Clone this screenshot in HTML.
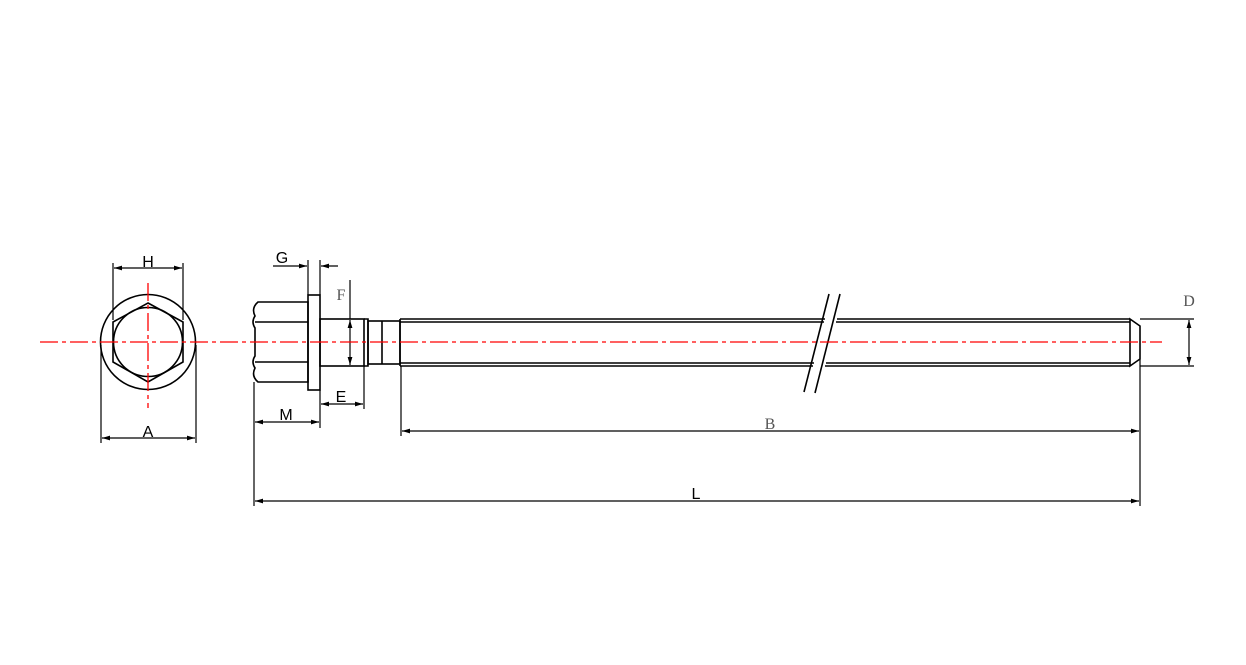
<!DOCTYPE html>
<html><head><style>body{margin:0;background:#fff}svg{display:block}</style></head><body>
<svg width="1246" height="665" viewBox="0 0 1246 665" xmlns="http://www.w3.org/2000/svg">
<defs>
<marker id="a" viewBox="0 0 10 6" refX="10" refY="3" markerWidth="8" markerHeight="4" orient="auto-start-reverse"><path d="M0,0L10,3L0,6z" fill="#000"/></marker>
</defs>
<g stroke="#000" stroke-width="1.6" fill="none">
<circle cx="148" cy="342" r="47.5"/>
<circle cx="148" cy="342" r="34.5"/>
<polygon points="148,303 183,322 183,362 148,382 113,362 113,322"/>
<path d="M258,302 H308 V382 H258 Q251,376 255,368 Q251,362 255,356 V328 Q251,322 255,316 Q251,308 258,302Z"/>
<line x1="255" y1="322" x2="308" y2="322"/><line x1="255" y1="362" x2="308" y2="362"/>
<rect x="308" y="295" width="12" height="95"/>
<rect x="320" y="319" width="44" height="47"/>
<path d="M364,319 H368 V366 H364"/>
<rect x="368" y="321" width="32" height="43"/>
<line x1="382" y1="321" x2="382" y2="364"/>
<path d="M400,319 V366"/>
<path d="M400,319 H825 M837,319 H1130 M400,322 H824 M836,322 H1130 M400,363 H814 M826,363 H1130 M400,366 H813 M825,366 H1130"/>
<path d="M1130,319 L1140,326 V359 L1130,366 Z"/>
<line x1="829" y1="294" x2="804" y2="392"/><line x1="840" y1="294" x2="815" y2="393"/>
</g>
<g stroke="#000" stroke-width="1.2" fill="none">
<line x1="113" y1="263" x2="113" y2="320"/><line x1="183" y1="263" x2="183" y2="320"/>
<line x1="114" y1="268" x2="182" y2="268" marker-start="url(#a)" marker-end="url(#a)"/>
<line x1="101" y1="345" x2="101" y2="443"/><line x1="196" y1="345" x2="196" y2="443"/>
<line x1="102" y1="438" x2="195" y2="438" marker-start="url(#a)" marker-end="url(#a)"/>
<line x1="308" y1="260" x2="308" y2="295"/><line x1="320" y1="260" x2="320" y2="295"/>
<line x1="273" y1="266" x2="307" y2="266" marker-end="url(#a)"/>
<line x1="338" y1="266" x2="321" y2="266" marker-end="url(#a)"/>
<line x1="350" y1="280" x2="350" y2="319"/>
<line x1="350" y1="320" x2="350" y2="365" marker-start="url(#a)" marker-end="url(#a)"/>
<line x1="320" y1="390" x2="320" y2="428"/><line x1="364" y1="366" x2="364" y2="409"/>
<line x1="321" y1="404" x2="363" y2="404" marker-start="url(#a)" marker-end="url(#a)"/>
<line x1="254" y1="382" x2="254" y2="506"/>
<line x1="255" y1="422" x2="319" y2="422" marker-start="url(#a)" marker-end="url(#a)"/>
<line x1="401" y1="366" x2="401" y2="436"/><line x1="1140" y1="359" x2="1140" y2="506"/>
<line x1="402" y1="431" x2="1139" y2="431" marker-start="url(#a)" marker-end="url(#a)"/>
<line x1="255" y1="501" x2="1139" y2="501" marker-start="url(#a)" marker-end="url(#a)"/>
<line x1="1140" y1="319" x2="1194" y2="319"/><line x1="1140" y1="366" x2="1194" y2="366"/>
<line x1="1189" y1="320" x2="1189" y2="365" marker-start="url(#a)" marker-end="url(#a)"/>
</g>
<g stroke="#f00" stroke-width="1.3" stroke-dasharray="18,4,4,4">
<line x1="40" y1="342" x2="1162" y2="342"/>
<line x1="148" y1="283" x2="148" y2="408"/>
</g>
<g font-family="Liberation Sans, sans-serif" font-size="16" fill="#000" text-anchor="middle">
<text x="148" y="267">H</text>
<text x="148" y="437">A</text>
<text x="282" y="263">G</text>
<text x="341" y="402">E</text>
<text x="286" y="420">M</text>
<text x="696" y="499">L</text>
</g>
<g font-family="Liberation Serif, serif" font-size="16" fill="#555" text-anchor="middle">
<text x="341" y="300">F</text>
<text x="770" y="429">B</text>
<text x="1189" y="306">D</text>
</g>
</svg>
</body></html>
